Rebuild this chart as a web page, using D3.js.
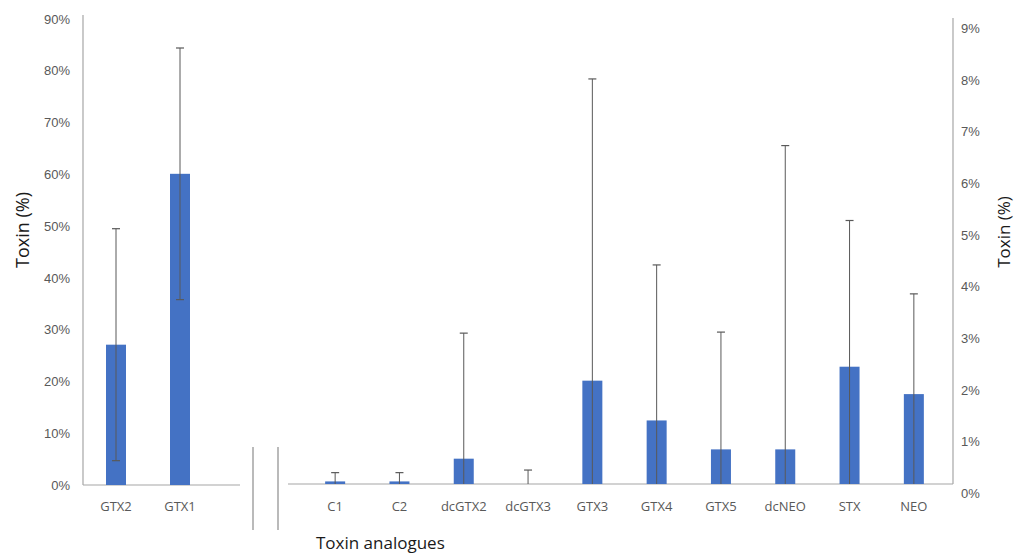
<!DOCTYPE html>
<html>
<head>
<meta charset="utf-8">
<script src="https://cdn.jsdelivr.net/npm/d3@7"></script>
<style>
  html, body { margin: 0; padding: 0; background: #fff; }
  svg { display: block; font-family: "Open Sans", "Noto Sans", sans-serif; }
</style>
</head>
<body>
<svg id="chart" width="1016" height="553"></svg>
<script>
// Major analogues (left panel, 0–90 %)
const majorCats = ["GTX2", "GTX1"];
const majorMean = [27.1, 60.1];
const majorSd   = [22.4, 24.3];

// Minor analogues (right panel, 0–9 %)
const minorCats = ["C1", "C2", "dcGTX2", "dcGTX3", "GTX3", "GTX4", "GTX5", "dcNEO", "STX", "NEO"];
const minorMean = [0.05, 0.05, 0.49, 0.0, 2.0, 1.23, 0.67, 0.67, 2.27, 1.74];
const minorSd   = [0.17, 0.17, 2.43, 0.27, 5.84, 3.01, 2.27, 5.88, 2.83, 1.94];

const leftTicks  = [0, 10, 20, 30, 40, 50, 60, 70, 80, 90];
const rightTicks = [0, 1, 2, 3, 4, 5, 6, 7, 8, 9];

const barColor = "#4472c4";
const axisColor = "#a6a6a6";
const tickText = "#595959";
const errColor = "#595959";

const svg = d3.select("#chart");

// ---------- left panel ----------
const yL = d3.scaleLinear().domain([0, 90]).range([485, 19]);
const xL = d3.scaleBand().domain(majorCats).range([84, 212]);

const gL = svg.append("g");
// y axis
const axL = gL.append("g").attr("transform", "translate(83,0)")
  .call(d3.axisLeft(yL).tickValues(leftTicks).tickSize(0).tickPadding(13).tickFormat(d => d + "%"));
axL.select(".domain").attr("stroke", axisColor).attr("stroke-width", 1.2).attr("d", `M0,${yL(90) - 4}V${yL(0)}`);
axL.selectAll("text").attr("fill", tickText).style("font-size", "13px");
// x baseline
gL.append("line").attr("x1", 83).attr("x2", 240).attr("y1", yL(0)).attr("y2", yL(0))
  .attr("stroke", axisColor).attr("stroke-width", 1.2);

const bw = 20;
gL.selectAll("rect.bar").data(majorCats).join("rect").attr("class", "bar")
  .attr("x", d => xL(d) + xL.bandwidth() / 2 - bw / 2)
  .attr("width", bw)
  .attr("y", (d, i) => yL(majorMean[i]))
  .attr("height", (d, i) => yL(0) - yL(majorMean[i]))
  .attr("fill", barColor);

function errorBars(g, cats, mean, sd, x, y) {
  cats.forEach((c, i) => {
    const cx = x(c) + x.bandwidth() / 2;
    const hi = mean[i] + sd[i];
    const lo = Math.max(0, mean[i] - sd[i]);
    g.append("line").attr("x1", cx).attr("x2", cx).attr("y1", y(hi)).attr("y2", y(lo))
      .attr("stroke", errColor).attr("stroke-width", 1);
    g.append("line").attr("x1", cx - 4).attr("x2", cx + 4).attr("y1", y(hi)).attr("y2", y(hi))
      .attr("stroke", errColor).attr("stroke-width", 1.2);
    if (lo > 0) {
      g.append("line").attr("x1", cx - 4).attr("x2", cx + 4).attr("y1", y(lo)).attr("y2", y(lo))
        .attr("stroke", errColor).attr("stroke-width", 1.2);
    }
  });
}
errorBars(gL, majorCats, majorMean, majorSd, xL, yL);

gL.selectAll("text.cat").data(majorCats).join("text").attr("class", "cat")
  .attr("x", d => xL(d) + xL.bandwidth() / 2).attr("y", 511)
  .attr("text-anchor", "middle").attr("fill", tickText).style("font-size", "13px")
  .text(d => d);

// ---------- right panel ----------
const yR = d3.scaleLinear().domain([0, 9]).range([484, 19]);
const xR = d3.scaleBand().domain(minorCats).range([303, 946]);

const gR = svg.append("g");
const axR = gR.append("g").attr("transform", "translate(953,0)")
  .call(d3.axisRight(yR).tickValues(rightTicks).tickSize(0).tickPadding(8).tickFormat(d => d + "%"));
axR.select(".domain").attr("stroke", axisColor).attr("stroke-width", 1.2).attr("d", `M0,${yR(9) - 1}V${yR(0)}`);
axR.selectAll("text").attr("fill", tickText).style("font-size", "13px").attr("dy", "1.05em");
gR.append("line").attr("x1", 288).attr("x2", 953).attr("y1", yR(0)).attr("y2", yR(0))
  .attr("stroke", axisColor).attr("stroke-width", 1.2);

gR.selectAll("rect.bar").data(minorCats).join("rect").attr("class", "bar")
  .attr("x", d => xR(d) + xR.bandwidth() / 2 - bw / 2)
  .attr("width", bw)
  .attr("y", (d, i) => yR(minorMean[i]))
  .attr("height", (d, i) => yR(0) - yR(minorMean[i]))
  .attr("fill", barColor);

errorBars(gR, minorCats, minorMean, minorSd, xR, yR);

gR.selectAll("text.cat").data(minorCats).join("text").attr("class", "cat")
  .attr("x", d => xR(d) + xR.bandwidth() / 2).attr("y", 511)
  .attr("text-anchor", "middle").attr("fill", tickText).style("font-size", "13px")
  .text(d => d);

// panel separators
[253, 278].forEach(x => {
  svg.append("line").attr("x1", x).attr("x2", x).attr("y1", 447).attr("y2", 530)
    .attr("stroke", "#8c8c8c").attr("stroke-width", 1.2);
});

// axis titles
svg.append("text").attr("transform", "translate(29,230) rotate(-90)")
  .attr("text-anchor", "middle").attr("fill", "#1a1a1a").style("font-size", "18px")
  .text("Toxin (%)");
svg.append("text").attr("transform", "translate(1010,232) rotate(-90)")
  .attr("text-anchor", "middle").attr("fill", "#1a1a1a").style("font-size", "17px")
  .text("Toxin (%)");
svg.append("text").attr("x", 316).attr("y", 549)
  .attr("fill", "#1a1a1a").style("font-size", "17px")
  .text("Toxin analogues");
</script>
</body>
</html>
